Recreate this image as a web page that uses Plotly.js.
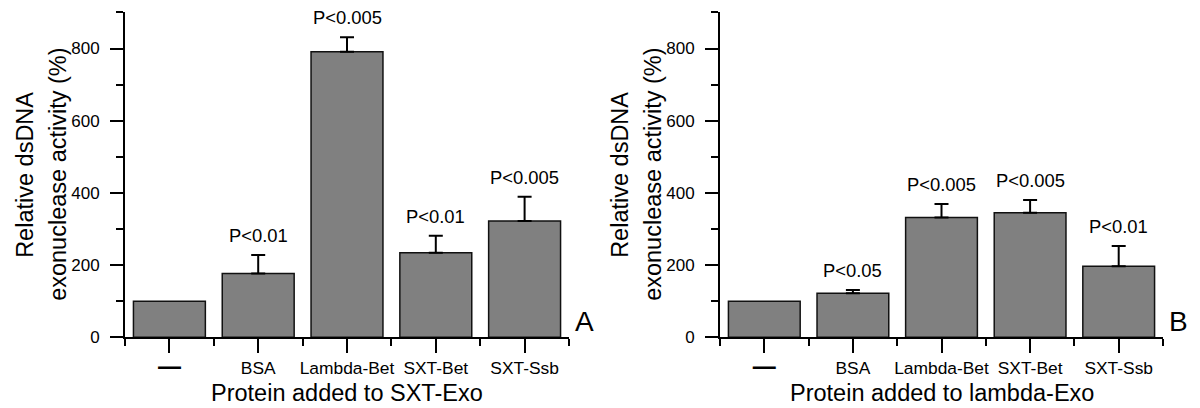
<!DOCTYPE html>
<html><head><meta charset="utf-8">
<script src="https://cdn.plot.ly/plotly-3.0.1.min.js"></script>
<style>html,body{margin:0;padding:0;background:#fff}#chart{width:1200px;height:408px}</style>
</head><body><div id="chart"></div>
<script>
// ---- data ----
const categories = ['—', 'BSA', 'Lambda-Bet', 'SXT-Bet', 'SXT-Ssb'];
const valuesA = [100, 177, 791, 234, 322];
const errorsA = [0, 51, 40, 47, 67];
const pLabelsA = ['', 'P<0.01', 'P<0.005', 'P<0.01', 'P<0.005'];
const valuesB = [100, 122, 332, 345, 197];
const errorsB = [0, 9, 37, 35, 56];
const pLabelsB = ['', 'P<0.05', 'P<0.005', 'P<0.005', 'P<0.01'];
const xTitles = ['Protein added to SXT-Exo', 'Protein added to lambda-Exo'];
const yTitleLines = ['Relative dsDNA', 'exonuclease activity (%)'];
const panelLetters = ['A', 'B'];

// ---- layout helpers ----
const W = 1200, H = 408;
const FONT = 'Liberation Sans, Arial, sans-serif';
const px = v => v / W;
const py = v => (H - v) / H;
const yTop = 12.4, yBottom = 337.3;
const panels = [
  { left: 125, right: 569, values: valuesA, errors: errorsA, labels: pLabelsA, xa: 'x', ya: 'y' },
  { left: 720, right: 1163, values: valuesB, errors: errorsB, labels: pLabelsB, xa: 'x2', ya: 'y2' }
];
const xIdx = categories.map((_, i) => i);
const tickText = categories.map(c => c === '—'
  ? "<span style='font-size:23px;font-weight:bold'>—</span>" : c);

const traces = [];
const annotations = [];
const layout = {
  width: W, height: H,
  margin: { l: 0, r: 0, t: 0, b: 0 },
  paper_bgcolor: '#fff', plot_bgcolor: '#fff',
  showlegend: false,
  font: { family: FONT, color: '#000' },
  bargap: 0
};

panels.forEach((p, k) => {
  traces.push({
    type: 'bar', x: xIdx, y: p.values, width: 0.81,
    xaxis: p.xa, yaxis: p.ya,
    marker: { color: '#808080', line: { color: '#111', width: 1.5 } },
    error_y: { type: 'data', symmetric: false, array: p.errors.map(e => e > 0 ? e : NaN),
      arrayminus: p.errors.map(e => e > 0 ? 0 : NaN), color: '#000', thickness: 2, width: 7 },
    hoverinfo: 'skip'
  });
  const xName = k === 0 ? 'xaxis' : 'xaxis2';
  const yName = k === 0 ? 'yaxis' : 'yaxis2';
  layout[xName] = {
    domain: [px(p.left), px(p.right)], anchor: p.ya,
    range: [-0.5, 4.5], tickmode: 'array', tickvals: xIdx, ticktext: tickText,
    showline: true, linecolor: '#000', linewidth: 2, showgrid: false, zeroline: false,
    ticks: 'outside', ticklen: 14, tickwidth: 2, tickcolor: '#000',
    ticklabelstandoff: 0,
    minor: { tickmode: 'linear', tick0: -0.5, dtick: 1, ticks: 'outside', ticklen: 7, tickwidth: 2, tickcolor: '#000', showgrid: false },
    tickfont: { family: FONT, size: 17.4, color: '#000' },
    automargin: false, fixedrange: true
  };
  layout[yName] = {
    domain: [py(yBottom), py(yTop)], anchor: p.xa,
    range: [0, 900], tickmode: 'linear', tick0: 0, dtick: 200,
    showline: true, linecolor: '#000', linewidth: 2, showgrid: false, zeroline: false,
    ticks: 'outside', ticklen: 13, tickwidth: 2, tickcolor: '#000',
    ticklabelstandoff: 7,
    minor: { tickmode: 'linear', tick0: 0, dtick: 100, ticks: 'outside', ticklen: 7, tickwidth: 2, tickcolor: '#000', showgrid: false },
    tickfont: { family: FONT, size: 17, color: '#000' },
    automargin: false, fixedrange: true
  };
  // p-value labels
  p.labels.forEach((t, i) => {
    if (!t) return;
    annotations.push({ xref: p.xa, yref: p.ya, x: i, y: p.values[i] + p.errors[i],
      text: t, showarrow: false, yanchor: 'bottom', yshift: 7,
      font: { family: FONT, size: 18.4, color: '#000' } });
  });
  // x title
  annotations.push({ xref: 'paper', yref: 'paper', x: px((p.left + p.right) / 2), y: py(393),
    text: xTitles[k], showarrow: false, xanchor: 'center', yanchor: 'middle',
    font: { family: FONT, size: 23.5, color: '#000' } });
  // y title (two lines)
  [[-100, 0], [-67, 1]].forEach(([dx, li]) => {
    annotations.push({ xref: 'paper', yref: 'paper', x: px(p.left + dx), y: py((yTop + yBottom) / 2),
      text: yTitleLines[li], showarrow: false, textangle: -90, xanchor: 'center', yanchor: 'middle',
      font: { family: FONT, size: 23.5, color: '#000' } });
  });
  // panel letter
  annotations.push({ xref: 'paper', yref: 'paper', x: px(p.right + 15), y: py(321),
    text: panelLetters[k], showarrow: false, xanchor: 'center', yanchor: 'middle',
    font: { family: FONT, size: 28, color: '#000' } });
});
layout.annotations = annotations;

Plotly.newPlot('chart', traces, layout, { staticPlot: true, displayModeBar: false });
</script></body></html>
